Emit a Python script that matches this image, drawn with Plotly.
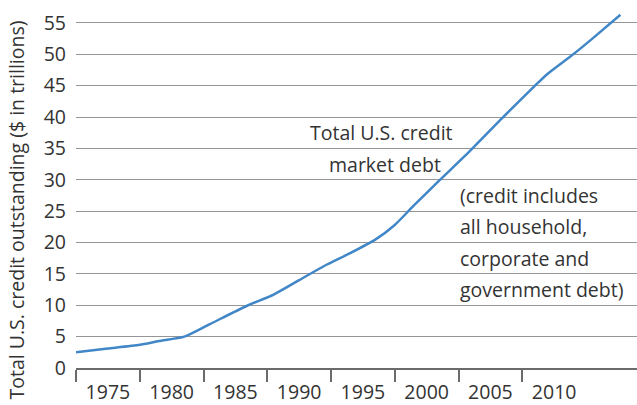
import plotly.graph_objects as go

# Data
years = [1972.5, 1975, 1977.5, 1979, 1981, 1983, 1986, 1988, 1990, 1992, 1994,
         1996, 1997.5, 1999, 2001, 2003, 2006, 2008.5, 2009.5, 2011.5, 2013, 2015.2]
debt = [2.5, 3.1, 3.7, 4.3, 5.0, 7.0, 10.0, 11.7, 14.0, 16.3, 18.3,
        20.5, 22.8, 25.9, 29.9, 33.8, 40.0, 45.0, 46.9, 50.0, 52.5, 56.3]

tick_labels = ["1975", "1980", "1985", "1990", "1995", "2000", "2005", "2010"]
label_pos = [1975, 1980, 1985, 1990, 1995, 2000, 2005, 2010]
boundaries = [1972.5, 1977.5, 1982.5, 1987.5, 1992.5, 1997.5, 2002.5, 2007.5]
y_ticks = [0, 5, 10, 15, 20, 25, 30, 35, 40, 45, 50, 55]

FONT = "Open Sans"
FS = 19.5
TXT = "#333333"

fig = go.Figure()
fig.add_trace(go.Scatter(
    x=years, y=debt, mode="lines",
    line=dict(color="#4187c7", width=2.5, shape="spline", smoothing=0.6),
    hoverinfo="skip", showlegend=False))

fig.update_layout(
    width=637, height=405,
    margin=dict(l=76, r=0, t=14, b=34),
    paper_bgcolor="white", plot_bgcolor="white",
    font=dict(family=FONT, size=FS, color=TXT),
    xaxis=dict(
        range=[1972.5, 2016.5], showgrid=False, zeroline=False,
        showline=True, linecolor="#6b6b6b", linewidth=2,
        tickmode="array", tickvals=label_pos, ticktext=tick_labels,
        ticks="", ticklabelstandoff=6,
        tickfont=dict(family=FONT, size=FS, color=TXT),
        minor=dict(tickmode="array", tickvals=boundaries, ticks="outside",
                   ticklen=12, tickwidth=1.5, tickcolor="#6b6b6b", showgrid=False),
    ),
    yaxis=dict(
        range=[0, 56.42], tickmode="array", tickvals=y_ticks,
        showgrid=True, gridcolor="#959595", gridwidth=1.2,
        zeroline=False, showline=False, ticks="", ticklabelstandoff=9,
        tickfont=dict(family=FONT, size=FS, color=TXT),
    ),
)

ann = dict(showarrow=False, font=dict(family=FONT, size=FS, color=TXT))
fig.add_annotation(text="Total U.S. credit", xref="paper", x=0.5437, xanchor="center",
                   yref="y", y=37.5, yanchor="middle", **ann)
fig.add_annotation(text="market debt", xref="paper", x=0.5508, xanchor="center",
                   yref="y", y=32.5, yanchor="middle", **ann)
for txt, yv in [("(credit includes", 27.5), ("all household,", 22.5),
                ("corporate and", 17.5), ("government debt)", 12.5)]:
    fig.add_annotation(text=txt, xref="paper", x=0.6809, xanchor="left",
                       yref="y", y=yv, yanchor="middle", **ann)

fig.add_annotation(text="Total U.S. credit outstanding ($ in trillions)",
                   textangle=-90, xref="paper", x=0, xanchor="center", xshift=-59,
                   yref="y", y=25.1, yanchor="middle", **ann)

fig.write_html("out.html", config={"displayModeBar": False},
               post_script="document.body.style.margin='0px';")
